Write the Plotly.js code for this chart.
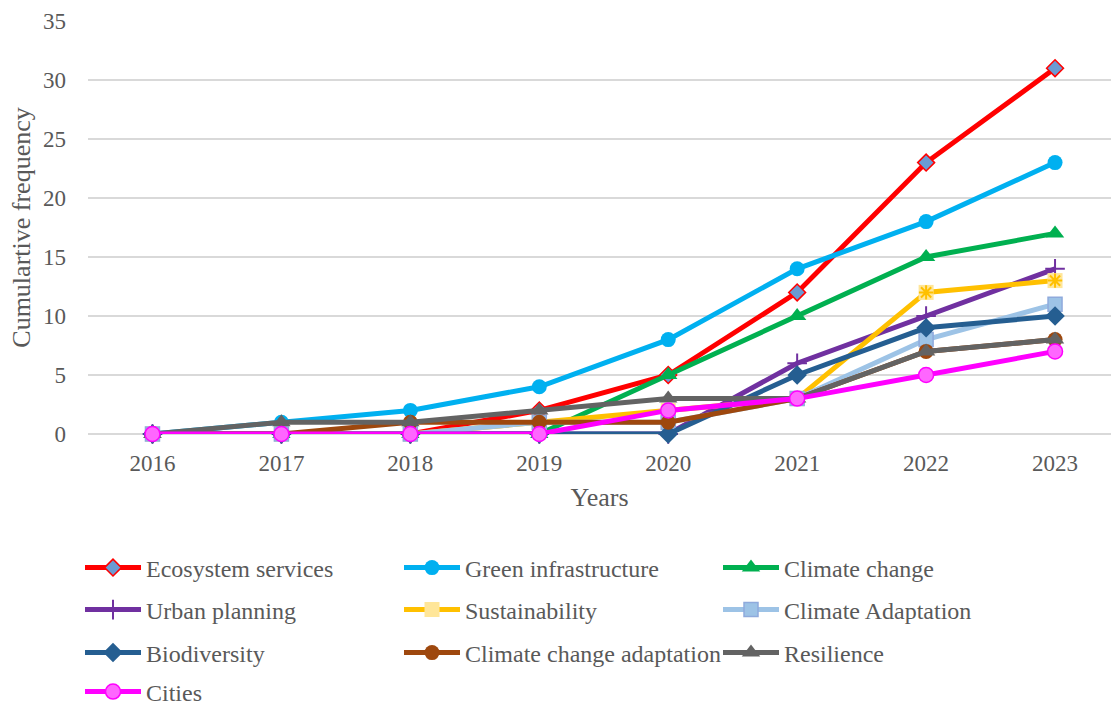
<!DOCTYPE html>
<html><head><meta charset="utf-8">
<script src="https://cdn.plot.ly/plotly-3.0.1.min.js"></script>
<style>body{margin:0;padding:0;background:#fff}#chart{width:1111px;height:705px}</style>
</head><body><div id="chart"></div>
<script>
const years = [2016, 2017, 2018, 2019, 2020, 2021, 2022, 2023];
const seriesNames = ["Ecosystem services", "Green infrastructure", "Climate change", "Urban planning", "Sustainability", "Climate Adaptation", "Biodiversity", "Climate change adaptation", "Resilience", "Cities"];
const ecosystemServices = [0, 0, 0, 2, 5, 12, 23, 31];
const greenInfrastructure = [0, 1, 2, 4, 8, 14, 18, 23];
const climateChange = [0, 0, 0, 0, 5, 10, 15, 17];
const urbanPlanning = [0, 0, 0, 0, 0, 6, 10, 14];
const sustainability = [0, 0, 0, 1, 2, 3, 12, 13];
const climateAdaptation = [0, 0, 0, 1, 1, 3, 8, 11];
const biodiversity = [0, 0, 0, 0, 0, 5, 9, 10];
const climateChangeAdaptation = [0, 0, 1, 1, 1, 3, 7, 8];
const resilience = [0, 1, 1, 2, 3, 3, 7, 8];
const cities = [0, 0, 0, 0, 2, 3, 5, 7];
const yTicks = [0, 5, 10, 15, 20, 25, 30, 35];

const LW = 5;
function tr(name, y, color, marker, legend, extra) {
  return Object.assign({
    type: 'scatter', mode: 'lines+markers', name: name, x: years, y: y,
    line: {color: color, width: LW}, marker: marker, cliponaxis: false, legend: legend
  }, extra || {});
}
const traces = [
  tr(seriesNames[0], ecosystemServices, '#FF0000', {symbol: 'diamond', size: 13, color: '#6A9BD3', line: {color: '#FF0000', width: 1.5}}, 'legend'),
  tr(seriesNames[1], greenInfrastructure, '#00B0F0', {symbol: 'circle', size: 15, color: '#00B0F0', line: {width: 0}}, 'legend'),
  tr(seriesNames[2], climateChange, '#00B050', {symbol: 'triangle-up', size: 16, color: '#00B050', line: {width: 0}}, 'legend'),
  tr(seriesNames[3], urbanPlanning, '#7030A0', {symbol: 'cross-thin', size: 14, color: '#7030A0', line: {color: '#7030A0', width: 2}}, 'legend2'),
  tr(seriesNames[4], sustainability, '#FFC000', {symbol: 'square', size: 15, color: '#FFE699', line: {width: 0}}, 'legend2'),
  tr(seriesNames[4], sustainability, '#FFC000', {symbol: 'asterisk', size: 12, color: '#FFC000', line: {color: '#FFC000', width: 2}}, 'legend2', {mode: 'markers', showlegend: false, hoverinfo: 'skip'}),
  tr(seriesNames[5], climateAdaptation, '#9DC3E6', {symbol: 'square', size: 14, color: '#9DC3E6', line: {color: '#8FAADC', width: 1.5}}, 'legend2'),
  tr(seriesNames[6], biodiversity, '#255E91', {symbol: 'diamond', size: 15, color: '#255E91', line: {width: 0}}, 'legend3'),
  tr(seriesNames[7], climateChangeAdaptation, '#9E480E', {symbol: 'circle', size: 15, color: '#9E480E', line: {width: 0}}, 'legend3'),
  tr(seriesNames[8], resilience, '#636363', {symbol: 'triangle-up', size: 16, color: '#636363', line: {width: 0}}, 'legend3'),
  tr(seriesNames[9], cities, '#FF00FF', {symbol: 'circle', size: 15, color: '#FF66FF', line: {color: '#FF00FF', width: 1.5}}, 'legend4')
];

const FF = 'Liberation Serif';
const GREY = '#595959';
const plotTop = 21, plotBottom = 434;
function legendAt(yPx) {
  return {
    orientation: 'h', xref: 'container', x: 80 / 1111, xanchor: 'left',
    yref: 'container', y: 1 - yPx / 705, yanchor: 'middle',
    entrywidth: 248, entrywidthmode: 'pixels', itemwidth: 56,
    font: {family: FF, size: 24, color: GREY}, traceorder: 'normal', bgcolor: 'rgba(0,0,0,0)'
  };
}
const layout = {
  width: 1111, height: 705,
  margin: {l: 88, r: 0, t: plotTop, b: 705 - plotBottom, autoexpand: false},
  paper_bgcolor: '#fff', plot_bgcolor: '#fff',
  showlegend: true,
  font: {family: FF, color: GREY},
  xaxis: {
    range: [2015.5, 2023.434], tickvals: years, ticktext: years.map(String),
    showgrid: false, zeroline: false, showline: false, ticks: '',
    tickfont: {family: FF, size: 23, color: GREY}, ticklabelstandoff: 13,
    title: {text: 'Years', font: {family: FF, size: 26, color: GREY}, standoff: 12},
    fixedrange: true, automargin: false
  },
  yaxis: {
    range: [0, 35], tickvals: yTicks, showgrid: true, gridcolor: '#D9D9D9', gridwidth: 1.3,
    zeroline: true, zerolinecolor: '#D9D9D9', zerolinewidth: 1.3, showline: false, ticks: '',
    tickfont: {family: FF, size: 23, color: GREY}, ticklabelstandoff: 21,
    title: {text: 'Cumulartive frequency', font: {family: FF, size: 26, color: GREY}, standoff: 4},
    fixedrange: true, automargin: false
  },
  legend: legendAt(568),
  legend2: legendAt(610),
  legend3: legendAt(653),
  legend4: legendAt(692)
};
Plotly.newPlot('chart', traces, layout, {displayModeBar: false, staticPlot: true});
</script></body></html>
